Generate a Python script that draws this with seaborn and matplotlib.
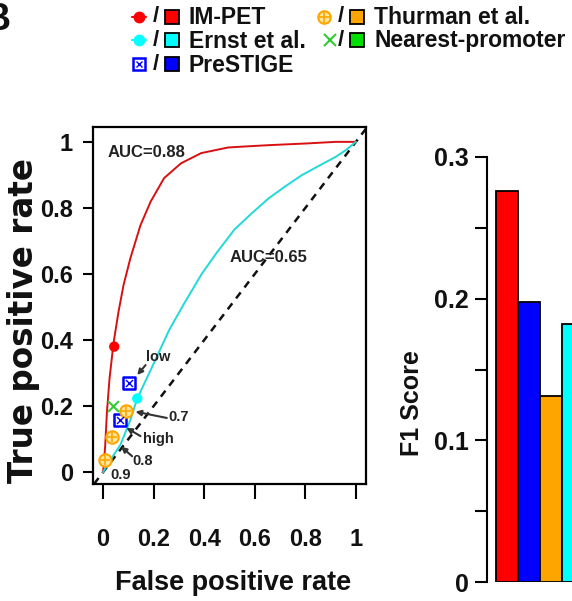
import matplotlib
matplotlib.use("Agg")
import matplotlib.pyplot as plt
from matplotlib import font_manager
import seaborn as sns
import pandas as pd

# ROC curves (false positive rate, true positive rate)
impet_fpr = [0, 0.008, 0.015, 0.025, 0.041, 0.061, 0.081, 0.108, 0.148, 0.188,
             0.241, 0.308, 0.388, 0.495, 0.561, 0.655, 0.8, 0.92, 1.0]
impet_tpr = [0, 0.077, 0.18, 0.28, 0.39, 0.486, 0.567, 0.648, 0.748, 0.819,
             0.89, 0.935, 0.966, 0.983, 0.986, 0.99, 0.995, 1.0, 1.0]
ernst_fpr = [0, 0.028, 0.068, 0.108, 0.135, 0.188, 0.225, 0.261, 0.321, 0.39,
             0.45, 0.52, 0.59, 0.655, 0.72, 0.788, 0.86, 0.921, 0.96, 1.0]
ernst_tpr = [0, 0.036, 0.082, 0.158, 0.223, 0.309, 0.37, 0.43, 0.511, 0.6,
             0.665, 0.735, 0.785, 0.829, 0.865, 0.9, 0.93, 0.955, 0.975, 1.0]

# single operating points of each method
point_method = ["IM-PET", "Ernst et al.", "PreSTIGE", "PreSTIGE", "Nearest-promoter",
                "Thurman et al.", "Thurman et al.", "Thurman et al."]
point_fpr = [0.044, 0.135, 0.104, 0.065, 0.041, 0.092, 0.035, 0.008]
point_tpr = [0.38, 0.223, 0.269, 0.158, 0.2, 0.185, 0.105, 0.036]

# threshold notes: text, text position, arrow tail, arrow tip
note_text = ["low", "0.7", "high", "0.8", "0.9"]
note_xy = [(0.218, 0.348), (0.298, 0.168), (0.218, 0.10), (0.158, 0.035), (0.068, -0.009)]
arrow_tail = [(0.168, 0.324), (0.252, 0.164), (0.148, 0.109), (0.115, 0.048)]
arrow_tip = [(0.135, 0.294), (0.128, 0.183), (0.092, 0.134), (0.071, 0.077)]

# F1 scores (the panel is cut off at the right edge)
bar_methods = ["IM-PET", "PreSTIGE", "Thurman et al.", "Ernst et al."]
bar_f1 = [0.276, 0.198, 0.1315, 0.182]

legend_methods = ["IM-PET", "Ernst et al.", "PreSTIGE", "Thurman et al.", "Nearest-promoter"]
colors = {"IM-PET": "#FF0000", "Ernst et al.": "#00FFFF", "PreSTIGE": "#0000FF",
          "Thurman et al.": "#FFA500", "Nearest-promoter": "#00E000"}


def pick(names):
    for n in names:
        try:
            font_manager.findfont(n, fallback_to_default=False)
            return n
        except ValueError:
            pass
    return "DejaVu Sans"


sns.set_theme(style="white")
regular = pick(["Liberation Sans", "DejaVu Sans"])
plt.rcParams["font.family"] = [regular, "DejaVu Sans"]
plt.rcParams["font.weight"] = "bold"

W, H = 572, 601
fig = plt.figure(figsize=(W / 100, H / 100), dpi=100)

# ---------------- ROC panel ----------------
ax = fig.add_axes([93 / W, 1 - 484 / H, 273 / W, 357 / H])
ax.axline((0, 0), (1, 1), color="#111111", lw=1.8, dashes=(3, 2.5), zorder=1)

roc = pd.concat([
    pd.DataFrame({"fpr": impet_fpr, "tpr": impet_tpr, "method": "IM-PET"}),
    pd.DataFrame({"fpr": ernst_fpr, "tpr": ernst_tpr, "method": "Ernst et al."}),
])
sns.lineplot(data=roc, x="fpr", y="tpr", hue="method", sort=False, estimator=None,
             palette={"IM-PET": "#D81010", "Ernst et al.": "#22D8D8"}, lw=1.4,
             legend=False, ax=ax, zorder=2)

pts = pd.DataFrame({"method": point_method, "fpr": point_fpr, "tpr": point_tpr})
dots = pts[pts.method.isin(["IM-PET", "Ernst et al."])]
sns.scatterplot(data=dots, x="fpr", y="tpr", hue="method", palette=colors, s=55,
                linewidth=0, legend=False, ax=ax, zorder=4)
pre = pts[pts.method == "PreSTIGE"]
sns.scatterplot(data=pre, x="fpr", y="tpr", marker="s", s=80, color="#0000FF",
                facecolor="white", edgecolor="#0000FF", linewidth=1.8, ax=ax, zorder=4)
sns.scatterplot(data=pre, x="fpr", y="tpr", marker="x", s=25, color="#0000FF",
                linewidth=1, ax=ax, zorder=5)
thu = pts[pts.method == "Thurman et al."]
sns.scatterplot(data=thu, x="fpr", y="tpr", marker="o", s=80, color="#FFA500",
                facecolor="#FFE8A0", edgecolor="#FFA500", linewidth=1.5, ax=ax, zorder=4)
sns.scatterplot(data=thu, x="fpr", y="tpr", marker="+", s=60, color="#FFA500",
                linewidth=1.2, ax=ax, zorder=5)
near = pts[pts.method == "Nearest-promoter"]
sns.scatterplot(data=near, x="fpr", y="tpr", marker="x", s=60, color="#33CC33",
                linewidth=1.5, ax=ax, zorder=4)

for t, (tx, ty) in zip(note_text, note_xy):
    ax.text(tx, ty, t, ha="center", va="center", fontsize=10.5,
            weight="bold", color="#222222", zorder=6)
for tail, tip in zip(arrow_tail, arrow_tip):
    ax.annotate("", xy=tip, xytext=tail,
                arrowprops=dict(arrowstyle="-|>", color="#333333", lw=1.5,
                                mutation_scale=8, shrinkA=0, shrinkB=0), zorder=6)

ax.text(0.016, 0.967, "AUC=0.88", ha="left", va="center", fontsize=12,
        weight="bold", color="#222222")
ax.text(0.5, 0.65, "AUC=0.65", ha="left", va="center", fontsize=12,
        weight="bold", color="#222222")

ax.set_xlim(-0.04, 1.04)
ax.set_ylim(-0.036, 1.045)
tick_vals = [0, 0.2, 0.4, 0.6, 0.8, 1]
tick_labels = ["0", "0.2", "0.4", "0.6", "0.8", "1"]
ax.set_xticks(tick_vals)
ax.set_xticklabels(tick_labels, weight="bold", fontsize=17)
ax.set_yticks(tick_vals)
ax.set_yticklabels(tick_labels, weight="bold", fontsize=17)
ax.tick_params(axis="x", length=11, width=1.5, pad=21, color="black",
               labelcolor="#111111", bottom=True)
ax.tick_params(axis="y", length=7.5, width=1.5, pad=7, color="black",
               labelcolor="#111111", left=True)
for sp in ax.spines.values():
    sp.set_color("black")
    sp.set_linewidth(1.6)
ax.set_xlabel("False positive rate", weight="bold", fontsize=19.5, color="#111111")
ax.xaxis.set_label_coords(0.513, -0.24)
ax.set_ylabel("True positive rate", family="DejaVu Sans", weight="bold", fontsize=23.5,
              color="#111111", va="center")
ax.yaxis.set_label_coords(-0.256, 0.459)

# ---------------- F1 panel ----------------
ax2 = fig.add_axes([487 / W, 1 - 582 / H, 85 / W, 425 / H])
sns.barplot(x=bar_methods, y=bar_f1, hue=bar_methods, palette=colors, width=1,
            saturation=1, edgecolor="black", linewidth=1.3, legend=False, ax=ax2)
ax2.set_xlim(-0.909, 2.955)
ax2.set_ylim(0, 0.3)
for s in ["top", "right", "bottom"]:
    ax2.spines[s].set_visible(False)
ax2.spines["left"].set_color("black")
ax2.spines["left"].set_linewidth(1.5)
ax2.set_xticks([])
ax2.set_yticks([0, 0.1, 0.2, 0.3])
ax2.set_yticklabels(["0", "0.1", "0.2", "0.3"], weight="bold", fontsize=18)
ax2.set_yticks([0.05, 0.15, 0.25], minor=True)
ax2.tick_params(axis="y", which="both", length=9, width=1.5, pad=4, color="black",
                labelcolor="#111111", left=True)
ax2.set_ylabel("F1 Score", weight="bold", fontsize=18, color="#111111", va="center")
ax2.yaxis.set_label_coords(-0.88, 0.42)

# ---------------- legend ----------------
lg = fig.add_axes([0, 0, 1, 1], zorder=10)
lg.set_xlim(0, W)
lg.set_ylim(H, 0)
lg.axis("off")
leg_x = [139, 139, 139, 324, 324]
leg_y = [17, 40, 64, 17, 40]
for m, x, y in zip(legend_methods, leg_x, leg_y):
    c = colors[m]
    if m in ("IM-PET", "Ernst et al."):
        lg.plot([x - 7, x + 7], [y, y], color=c, lw=1.5)
        lg.plot([x], [y], marker="o", ms=7.5, color=c)
    elif m == "PreSTIGE":
        lg.plot([x], [y], marker="s", ms=9, mfc="white", mec=c, mew=1.8)
        lg.plot([x], [y], marker="x", ms=5, color=c, mew=1)
    elif m == "Thurman et al.":
        lg.plot([x], [y], marker="o", ms=9, mfc="#FFE8A0", mec=c, mew=1.5)
        lg.plot([x], [y], marker="+", ms=8, color=c, mew=1.2)
    else:
        lg.plot([x + 6], [y], marker="x", ms=8, color="#33CC33", mew=1.5)
    lg.text(x + 17, y, "/", ha="center", va="center", fontsize=16, weight="bold",
            color="#111111")
    lg.plot([x + 33], [y], marker="s", ms=10, mfc=c, mec="black", mew=1.3)
    lg.text(x + 50, y + 1, m, ha="left", va="center", fontsize=16.5, weight="bold",
            color="#111111")

fig.text(-17 / W, 1 - 2 / H, "B", ha="left", va="top", fontsize=27, weight="bold",
         color="#111111")

fig.savefig("out.png", dpi=100)
